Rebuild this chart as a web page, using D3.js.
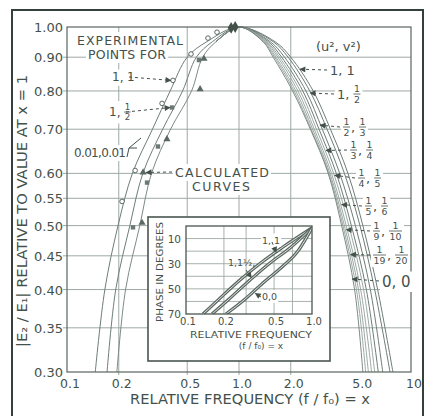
<!DOCTYPE html>
<html>
<head>
<meta charset="utf-8">
<script src="https://cdn.jsdelivr.net/npm/d3@7"></script>
<style>
body { margin: 0; background: #fff; }
text { font-family: "DejaVu Sans", sans-serif; fill: #44514b; }
</style>
</head>
<body>
<svg id="chart" width="427" height="416"></svg>
<script>
// tick values and labels
var yTicks = [1.00, 0.90, 0.80, 0.70, 0.60, 0.55, 0.50, 0.45, 0.40, 0.35, 0.30];
var yTickLabels = ["1.00", "0.90", "0.80", "0.70", "0.60", "0.55", "0.50", "0.45", "0.40", "0.35", "0.30"];
var xTicks = [0.1, 0.2, 0.5, 1.0, 2.0, 5.0, 10];
var xTickLabels = ["0.1", "0.2", "0.5", "1.0", "2.0", "5.0", "10"];
var xGrid = [0.2, 0.5, 1.0, 2.0];

var levels = [1.00, 0.95, 0.90, 0.80, 0.70, 0.60, 0.50, 0.40, 0.30];

// low side of the curves (x < 1), x at each level
var leftOne  = [1.0, 0.65, 0.50, 0.398, 0.314, 0.240, 0.198, 0.166, 0.146];
var leftHalf = [1.0, 0.70, 0.565, 0.470, 0.360, 0.276, 0.232, 0.192, 0.171];
var leftZero = [1.0, 0.735, 0.615, 0.530, 0.400, 0.310, 0.265, 0.219, 0.195];

// high side of the curves (x > 1), x at each level, one per (u2, v2)
var r_1_1     = [1.0, 1.62, 2.00, 2.70, 3.40, 4.30, 5.25, 6.40, 7.85];
var r_1_2     = [1.0, 1.58, 1.93, 2.58, 3.25, 4.10, 5.05, 6.15, 7.55];
var r_2_3     = [1.0, 1.52, 1.84, 2.45, 3.05, 3.85, 4.75, 5.80, 6.85];
var r_3_4     = [1.0, 1.48, 1.77, 2.35, 2.92, 3.68, 4.50, 5.50, 6.45];
var r_4_5     = [1.0, 1.45, 1.72, 2.27, 2.82, 3.55, 4.35, 5.30, 6.15];
var r_5_6     = [1.0, 1.43, 1.68, 2.20, 2.74, 3.45, 4.20, 5.10, 5.90];
var r_9_10    = [1.0, 1.41, 1.64, 2.14, 2.68, 3.38, 4.10, 4.95, 5.65];
var r_19_20   = [1.0, 1.39, 1.61, 2.09, 2.63, 3.33, 4.02, 4.82, 5.45];
var r_0_0     = [1.0, 1.38, 1.58, 2.05, 2.60, 3.30, 3.95, 4.70, 5.25];

// labels of the curves (u2, v2) and where their arrows touch
var curveNames = [["1", "1"], ["1", "1/2"], ["1/2", "1/3"], ["1/3", "1/4"], ["1/4", "1/5"],
                  ["1/5", "1/6"], ["1/9", "1/10"], ["1/19", "1/20"], ["0", "0"]];
var arrowTips = [[2.26, 0.863], [2.59, 0.794], [2.96, 0.71], [3.2, 0.65], [3.6, 0.596],
                 [3.95, 0.538], [4.2, 0.493], [4.45, 0.452], [4.55, 0.415]];

// experimental points
var ptsOne  = [[0.209, 0.544], [0.249, 0.606], [0.357, 0.766], [0.413, 0.830], [0.526, 0.910], [0.66, 0.962], [0.745, 0.982]];
var ptsHalf = [[0.242, 0.497], [0.292, 0.581], [0.338, 0.659], [0.408, 0.755], [0.585, 0.891]];
var ptsZero = [[0.277, 0.602], [0.594, 0.805], [0.381, 0.676], [0.273, 0.505], [0.626, 0.895]];
var ptsPeak = [[0.90, 0.997], [0.95, 1.0]];

// inset: phase in degrees against x
var insetXTicks = [0.1, 0.2, 0.5, 1.0];
var insetXLabels = ["0.1", "0.2", "0.5", "1.0"];
var insetYTicks = [10, 30, 50, 70];
var insetOne  = [[0.1365, 70], [0.1795, 58.9], [0.268, 43], [0.401, 28.6], [0.589, 16.7], [1.0, 1.5]];
var insetHalf = [[0.161, 70], [0.2154, 58.9], [0.322, 43], [0.464, 29.4], [0.669, 17.5], [1.0, 1.5]];
var insetZero = [[0.2077, 70], [0.2886, 58.9], [0.408, 45.3], [0.578, 32.6], [0.774, 19.9], [1.0, 1.5]];

var ink = "#44514b", gridC = "#9ea9a4", curveC = "#6e7d77";

var svg = d3.select("#chart");

svg.append("defs").append("marker")
    .attr("id", "ah")
    .attr("viewBox", "0 0 10 10")
    .attr("refX", 9).attr("refY", 5)
    .attr("markerWidth", 7).attr("markerHeight", 6)
    .attr("markerUnits", "userSpaceOnUse")
    .attr("orient", "auto")
    .append("path").attr("d", "M0,0L10,5L0,10z").attr("fill", ink);

// outer frame of the scan
svg.append("rect").attr("x", 0).attr("y", 0).attr("width", 427).attr("height", 416).attr("fill", "#fff");
svg.append("path")
    .attr("d", "M12,420V10H423V420")
    .attr("fill", "none").attr("stroke", "#34403b").attr("stroke-width", 2);

var x = d3.scaleLog().domain([0.1, 10]).range([67, 411]);
var y = d3.scaleLog().domain([0.3, 1]).range([372, 27]);

// grid
svg.append("g").selectAll("line")
    .data(yTicks.slice(1, -1))
    .join("line")
    .attr("x1", 63).attr("x2", 411)
    .attr("y1", d => y(d)).attr("y2", d => y(d))
    .attr("stroke", gridC).attr("stroke-width", 1);
svg.append("g").selectAll("line")
    .data(xGrid)
    .join("line")
    .attr("x1", d => x(d)).attr("x2", d => x(d))
    .attr("y1", 27).attr("y2", 375)
    .attr("stroke", gridC).attr("stroke-width", 1);

// tick labels
svg.append("g").selectAll("text")
    .data(yTicks)
    .join("text")
    .attr("x", 63).attr("y", d => y(d) + 5)
    .attr("text-anchor", "end")
    .style("font-size", "13px")
    .text((d, i) => yTickLabels[i]);
svg.append("g").selectAll("text")
    .data(xTicks)
    .join("text")
    .attr("x", d => x(d) + 3).attr("y", 388)
    .attr("text-anchor", "middle")
    .style("font-size", "12.5px")
    .text((d, i) => xTickLabels[i]);

// axis titles
svg.append("text")
    .attr("transform", "translate(27,211) rotate(-90)")
    .attr("text-anchor", "middle")
    .attr("textLength", 272).attr("lengthAdjust", "spacingAndGlyphs")
    .style("font-size", "13.5px")
    .text("|E₂ / E₁| RELATIVE TO VALUE AT x = 1");
svg.append("text")
    .attr("x", 250).attr("y", 404)
    .attr("text-anchor", "middle")
    .attr("textLength", 240).attr("lengthAdjust", "spacingAndGlyphs")
    .style("font-size", "13.5px")
    .text("RELATIVE FREQUENCY (f / f₀) = x");

// curves
var line = d3.line()
    .x(d => x(d[0]))
    .y(d => y(d[1]))
    .curve(d3.curveCatmullRom.alpha(0.5));

function side(xs, from) {
    return xs.map((v, i) => [v, levels[i]]).slice(from);
}

var rights = [r_1_1, r_1_2, r_2_3, r_3_4, r_4_5, r_5_6, r_9_10, r_19_20, r_0_0];
var lefts = [leftOne, leftHalf];

rights.forEach(function(r, k) {
    var lowSide;
    if (k < 2) lowSide = side(lefts[k], 1).reverse();
    else if (k == 8) lowSide = side(leftZero, 1).reverse();
    else lowSide = side(leftZero, 1).slice(0, 1);
    var pts = lowSide.concat(side(r, 0));
    svg.append("path")
        .datum(pts)
        .attr("fill", "none")
        .attr("stroke", k < 4 || k == 8 ? curveC : "#929f99")
        .attr("stroke-width", k < 4 ? 1 : 0.9)
        .attr("d", line);
});

// plot border
svg.append("rect")
    .attr("x", 67).attr("y", 27).attr("width", 344).attr("height", 345)
    .attr("fill", "none").attr("stroke", "#5a6660").attr("stroke-width", 1.2);

// experimental points
svg.append("g").selectAll("circle")
    .data(ptsOne)
    .join("circle")
    .attr("cx", d => x(d[0])).attr("cy", d => y(d[1])).attr("r", 2.3)
    .attr("fill", "#fff").attr("stroke", "#5b6862").attr("stroke-width", 1);
svg.append("g").selectAll("rect")
    .data(ptsHalf)
    .join("rect")
    .attr("x", d => x(d[0]) - 2.2).attr("y", d => y(d[1]) - 2.2)
    .attr("width", 4.4).attr("height", 4.4)
    .attr("fill", "#6c7973");
svg.append("g").selectAll("path")
    .data(ptsZero)
    .join("path")
    .attr("transform", d => "translate(" + x(d[0]) + "," + y(d[1]) + ")")
    .attr("d", d3.symbol(d3.symbolTriangle, 22))
    .attr("fill", "#5b6862");
svg.append("g").selectAll("path")
    .data(ptsPeak)
    .join("path")
    .attr("transform", d => "translate(" + x(d[0]) + "," + y(d[1]) + ")")
    .attr("d", d3.symbol(d3.symbolDiamond, 40))
    .attr("fill", "#44514b");

// stacked fraction labels like "1, 1/2"
function drawLabel(g, parts, x0, cy, size) {
    var cx = x0;
    parts.forEach(function(p, i) {
        if (i > 0) {
            g.append("text").attr("x", cx).attr("y", cy + size * 0.4)
                .style("font-size", size + "px").text(",");
            cx += size * 0.62;
        }
        if (p.indexOf("/") > 0) {
            var nd = p.split("/");
            var fs = size * 0.72;
            var w = Math.max(nd[0].length, nd[1].length) * fs * 0.64 + 1;
            g.append("text").attr("x", cx + w / 2).attr("y", cy - 1.8)
                .attr("text-anchor", "middle").style("font-size", fs + "px").text(nd[0]);
            g.append("line").attr("x1", cx).attr("x2", cx + w)
                .attr("y1", cy).attr("y2", cy)
                .attr("stroke", ink).attr("stroke-width", 0.8);
            g.append("text").attr("x", cx + w / 2).attr("y", cy + fs * 0.75 + 2)
                .attr("text-anchor", "middle").style("font-size", fs + "px").text(nd[1]);
            cx += w + 1;
        } else {
            g.append("text").attr("x", cx).attr("y", cy + size * 0.37)
                .style("font-size", size + "px").text(p);
            cx += p.length * size * 0.64;
        }
    });
}

function backed(g, pad) {
    var b = g.node().getBBox();
    g.insert("rect", ":first-child")
        .attr("x", b.x - pad).attr("y", b.y - 1)
        .attr("width", b.width + 2 * pad).attr("height", b.height + 2)
        .attr("fill", "#fff");
}

function note(tx, ty, size, len, s) {
    var g = svg.append("g");
    g.append("text").attr("x", tx).attr("y", ty)
        .style("font-size", size + "px").attr("textLength", len).text(s);
    backed(g, 2);
    return g;
}

function dashArrow(x1, y1, x2, y2) {
    svg.append("line")
        .attr("x1", x1).attr("y1", y1).attr("x2", x2).attr("y2", y2)
        .attr("stroke", ink).attr("stroke-width", 1)
        .attr("stroke-dasharray", "3,3")
        .attr("marker-end", "url(#ah)");
}

// right-hand labels (u2, v2)
var labelX = [330, 337, 343, 350, 358, 365, 373, 373, 382];
var labelY = [70, 94, 127, 150, 178, 206, 231, 255, 281];
curveNames.forEach(function(nm, k) {
    var g = svg.append("g");
    drawLabel(g, nm, labelX[k], labelY[k], k == 8 ? 15 : 13);
    backed(g, 2);
    dashArrow(labelX[k] - 3, labelY[k], x(arrowTips[k][0]), y(arrowTips[k][1]));
});

var gu = svg.append("g");
gu.append("text").attr("x", 316).attr("y", 51).style("font-size", "13px").text("(u², v²)");
backed(gu, 2);

// left-hand notes
note(77, 45, 12.5, 106, "EXPERIMENTAL");
note(88, 59, 12.5, 78, "POINTS FOR");

var g11 = svg.append("g");
drawLabel(g11, ["1", "1"], 112, 77, 12);
backed(g11, 1);
dashArrow(129, 77, x(ptsOne[3][0]) - 2, y(ptsOne[3][1]));

var g12 = svg.append("g");
drawLabel(g12, ["1", "1/2"], 109, 112, 12);
backed(g12, 1);
dashArrow(126, 112, x(ptsHalf[3][0]) - 2, y(ptsHalf[3][1]));

note(74, 157, 12, 52, "0.01,0.01");
svg.append("path").attr("d", "M127,157L129,148L137,148M129,148L141,138")
    .attr("fill", "none").attr("stroke", ink).attr("stroke-width", 1);

note(175, 177, 12.5, 94, "CALCULATED");
note(192, 191, 12.5, 58, "CURVES");
dashArrow(172, 172, x(ptsZero[0][0]) + 3, y(ptsZero[0][1]));

// inset: phase
var ix = d3.scaleLog().domain([0.1, 1]).range([186, 312]);
var iy = d3.scaleLinear().domain([0, 70]).range([226, 314]);

svg.append("rect")
    .attr("x", 148).attr("y", 217).attr("width", 182).attr("height", 144)
    .attr("fill", "#fff").attr("stroke", "#4a5650").attr("stroke-width", 1.6);

svg.append("g").selectAll("line")
    .data([10, 20, 30, 40, 50, 60])
    .join("line")
    .attr("x1", 186).attr("x2", 312)
    .attr("y1", d => iy(d)).attr("y2", d => iy(d))
    .attr("stroke", gridC).attr("stroke-width", 0.9);
svg.append("g").selectAll("line")
    .data([0.2, 0.3, 0.5, 0.7])
    .join("line")
    .attr("x1", d => ix(d)).attr("x2", d => ix(d))
    .attr("y1", 226).attr("y2", 314)
    .attr("stroke", gridC).attr("stroke-width", 0.9);

var iline = d3.line()
    .x(d => ix(d[0]))
    .y(d => iy(d[1]))
    .curve(d3.curveMonotoneX);

svg.append("clipPath").attr("id", "iclip")
    .append("rect").attr("x", 186).attr("y", 226).attr("width", 126).attr("height", 88);

[insetOne, insetHalf, insetZero].forEach(function(c) {
    svg.append("path").datum(c)
        .attr("clip-path", "url(#iclip)")
        .attr("fill", "none").attr("stroke", "#5b6862").attr("stroke-width", 3.2)
        .attr("d", iline);
    svg.append("path").datum(c)
        .attr("clip-path", "url(#iclip)")
        .attr("fill", "none").attr("stroke", "#dfe4e1").attr("stroke-width", 1)
        .attr("d", iline);
});

svg.append("rect")
    .attr("x", 186).attr("y", 226).attr("width", 126).attr("height", 88)
    .attr("fill", "none").attr("stroke", "#4a5650").attr("stroke-width", 1.3);

svg.append("g").selectAll("text")
    .data(insetYTicks)
    .join("text")
    .attr("x", 181).attr("y", d => iy(d) + 4)
    .attr("text-anchor", "end")
    .style("font-size", "10.5px")
    .text(d => d);
svg.append("g").selectAll("text")
    .data(insetXTicks)
    .join("text")
    .attr("x", d => ix(d) + 2).attr("y", 325)
    .attr("text-anchor", "middle")
    .style("font-size", "10px")
    .text((d, i) => insetXLabels[i]);

svg.append("text")
    .attr("transform", "translate(163,272) rotate(-90)")
    .attr("text-anchor", "middle")
    .attr("textLength", 100).attr("lengthAdjust", "spacingAndGlyphs")
    .style("font-size", "9px")
    .text("PHASE IN DEGREES");
svg.append("text")
    .attr("x", 251).attr("y", 338).attr("text-anchor", "middle")
    .attr("textLength", 122).attr("lengthAdjust", "spacingAndGlyphs")
    .style("font-size", "9.5px")
    .text("RELATIVE FREQUENCY");
svg.append("text")
    .attr("x", 261).attr("y", 349).attr("text-anchor", "middle")
    .style("font-size", "9px")
    .text("(f / f₀) = x");

// inset labels
var ga = svg.append("g");
drawLabel(ga, ["1", "1"], 262, 240, 9.5);
backed(ga, 1);
dashArrow(272, 242, ix(0.52), iy(21));

svg.append("text").attr("x", 228).attr("y", 266).style("font-size", "9.5px").text("1,1½,");
dashArrow(246, 270, ix(0.33), iy(41));

var gz = svg.append("g");
gz.append("text").attr("x", 262).attr("y", 300).style("font-size", "9.5px").text("0,0");
backed(gz, 1);
dashArrow(261, 297, ix(0.355), iy(53.5));
</script>
</body>
</html>
